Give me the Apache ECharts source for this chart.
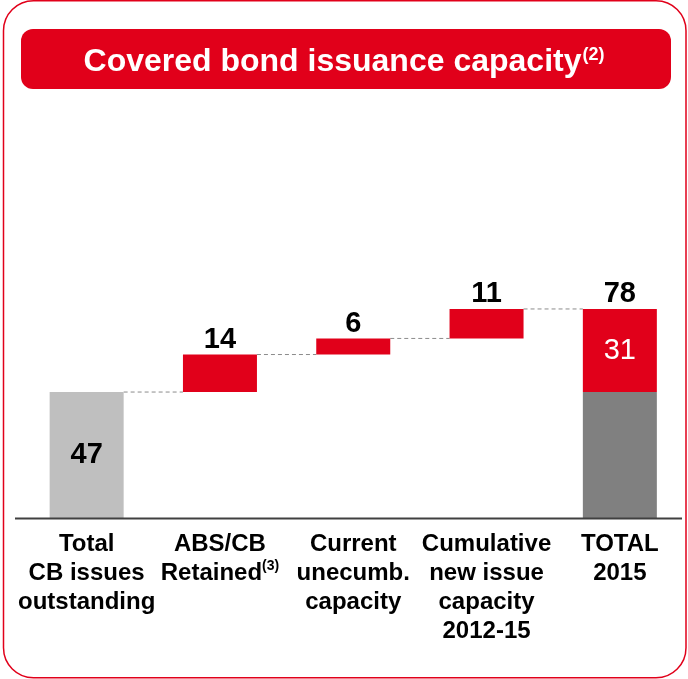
<!DOCTYPE html>
<html>
<head>
<meta charset="utf-8">
<style>
  html, body { margin: 0; padding: 0; background: #fff; }
  #chart { width: 688px; height: 679px; }
</style>
<script src="https://cdn.jsdelivr.net/npm/echarts@6/dist/echarts.min.js"></script>
</head>
<body>
<div id="chart"></div>
<script>
// Waterfall: covered bond issuance capacity (EUR bn)
const categories = ['Total\nCB issues\noutstanding', 'ABS/CB\nRetained(3)', 'Current\nunecumb.\ncapacity', 'Cumulative\nnew issue\ncapacity\n2012-15', 'TOTAL\n2015'];
const outstanding = 47;          // first bar and base of the total bar
const increments = [14, 6, 11];  // steps added on top of the outstanding stock
const newCapacity = 31;          // red part of the total bar

const RED = '#E1001A';
const FONT = '"Liberation Sans", Arial, sans-serif';
const BAR_W = 74;

// Running levels built from the arrays above
const levels = [outstanding];
increments.forEach(v => levels.push(levels[levels.length - 1] + v));
const total = levels[levels.length - 1];

// Stack pieces: invisible offset, grey stock, red additions
const offsetData = [0].concat(levels.slice(0, increments.length)).concat([0]);
const greyData = [
  { value: outstanding, itemStyle: { color: '#BFBFBF' }, label: { show: true } },
  0, 0, 0,
  { value: outstanding, itemStyle: { color: '#808080' } }
];
const redData = [0].concat(increments.map(v => ({ value: v, label: { show: true, position: 'top', color: '#000', fontWeight: 'bold', fontSize: 29 } })));
redData.push({ value: newCapacity, label: { show: true, position: 'inside', color: '#fff', fontWeight: 'normal', fontSize: 29 } });
const topData = [0, 0, 0, 0, { value: 0, label: { show: true, formatter: String(total) } }];

const chart = echarts.init(document.getElementById('chart'), null, { renderer: 'canvas' });

chart.setOption({
  animation: false,
  backgroundColor: '#fff',
  title: {
    text: 'Covered bond issuance capacity{sup|(2)}',
    left: 'center',
    top: 41,
    textStyle: {
      color: '#fff', fontFamily: FONT, fontWeight: 'bold', fontSize: 32,
      rich: {
        sup: { color: '#fff', fontFamily: FONT, fontWeight: 'bold', fontSize: 18, verticalAlign: 'top', padding: [0, 0, 13, 1] }
      }
    },
    z: 10
  },
  graphic: [
    {
      type: 'rect', z: -1, silent: true,
      shape: { x: 3.5, y: 0.75, width: 682.5, height: 677, r: 30 },
      style: { fill: 'none', stroke: RED, lineWidth: 1.5 }
    },
    {
      type: 'rect', z: 0, silent: true,
      shape: { x: 21, y: 29, width: 650, height: 60, r: 12 },
      style: { fill: RED }
    },
    {
      type: 'line', z: 5, silent: true,
      shape: { x1: 15, y1: 518.5, x2: 682, y2: 518.5 },
      style: { stroke: '#404040', lineWidth: 2 }
    }
  ],
  grid: { left: 20, right: 1.5, top: 250, bottom: 161, containLabel: false },
  xAxis: {
    type: 'category',
    data: categories,
    axisLine: { show: false },
    axisTick: { show: false },
    axisLabel: {
      interval: 0,
      margin: 12,
      color: '#000',
      fontFamily: FONT,
      fontWeight: 'bold',
      fontSize: 24,
      lineHeight: 29,
      formatter: v => v.replace('(3)', '{sup|(3)}'),
      rich: {
        sup: { fontFamily: FONT, fontWeight: 'bold', fontSize: 14, color: '#000', verticalAlign: 'top', padding: [0, 0, 10, 0] }
      }
    }
  },
  yAxis: { type: 'value', min: 0, max: 100, show: false, splitLine: { show: false } },
  series: [
    {
      name: 'offset', type: 'bar', stack: 'w', barWidth: BAR_W,
      itemStyle: { color: 'transparent' }, silent: true,
      data: offsetData
    },
    {
      name: 'stock', type: 'bar', stack: 'w', barWidth: BAR_W,
      label: { show: false, position: 'inside', color: '#000', fontFamily: FONT, fontWeight: 'bold', fontSize: 29 },
      data: greyData
    },
    {
      name: 'additions', type: 'bar', stack: 'w', barWidth: BAR_W,
      itemStyle: { color: RED },
      label: { show: false, fontFamily: FONT, distance: 0 },
      data: redData
    },
    {
      name: 'total', type: 'bar', stack: 'w', barWidth: BAR_W,
      itemStyle: { color: 'transparent' },
      label: { show: false, position: 'top', distance: 0, color: '#000', fontFamily: FONT, fontWeight: 'bold', fontSize: 29 },
      data: topData
    },
    {
      // dashed connectors between consecutive steps
      name: 'connectors', type: 'custom', silent: true, z: 1,
      data: levels.map((lv, i) => [i, lv]),
      renderItem: function (params, api) {
        const a = api.coord([api.value(0), api.value(1)]);
        const b = api.coord([api.value(0) + 1, api.value(1)]);
        return {
          type: 'line',
          shape: { x1: a[0] + BAR_W / 2, y1: a[1], x2: b[0] - BAR_W / 2, y2: b[1] },
          style: { stroke: '#8C8C8C', lineWidth: 1, lineDash: [4, 3] }
        };
      }
    }
  ]
});
</script>
</body>
</html>
